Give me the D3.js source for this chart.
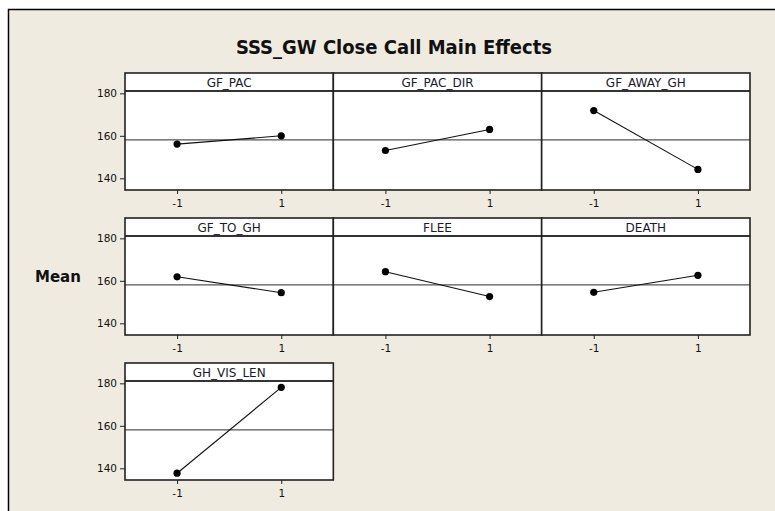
<!DOCTYPE html>
<html>
<head>
<meta charset="utf-8">
<script src="https://cdn.jsdelivr.net/npm/d3@7"></script>
<style>
  body { margin: 0; background: #fff; }
  svg { display: block; }
  text { font-family: "DejaVu Sans", Verdana, sans-serif; fill: #111; }
</style>
</head>
<body>
<script>

// factors and the mean response at each level
var factors = ["GF_PAC", "GF_PAC_DIR", "GF_AWAY_GH", "GF_TO_GH", "FLEE", "DEATH", "GH_VIS_LEN"];
var levels = [-1, 1];
var lowMeans = [156.1, 153.1, 171.9, 161.9, 164.3, 154.6, 137.7];
var highMeans = [160.0, 163.0, 144.2, 154.4, 152.6, 162.6, 178.1];
var grandMean = 158.1;
var yTicks = [140, 160, 180];
var xTickLabels = ["-1", "1"];

var w = 775, h = 511;
var stripH = 18;

var svg = d3.select("body")
  .append("svg")
  .attr("width", w)
  .attr("height", h);

// beige background with the black frame on top / left
svg.append("rect")
  .attr("x", 8).attr("y", 9)
  .attr("width", w - 8).attr("height", h - 9)
  .attr("fill", "#efebe0");
svg.append("path")
  .attr("d", "M8.5," + h + "V9.5H" + w)
  .attr("fill", "none")
  .attr("stroke", "#000")
  .attr("stroke-width", 1.5);

// title
svg.append("text")
  .attr("x", 394)
  .attr("y", 54)
  .attr("text-anchor", "middle")
  .style("font-family", "'DejaVu Sans Condensed', 'DejaVu Sans', sans-serif")
  .style("font-weight", "bold")
  .style("font-size", "20px")
  .text("SSS_GW Close Call Main Effects");

// y-axis title
svg.append("text")
  .attr("x", 35)
  .attr("y", 282)
  .style("font-weight", "bold")
  .style("font-size", "15px")
  .text("Mean");

// panel grid
var col = d3.scaleBand().domain([0, 1, 2]).range([125, 750]);
var row = d3.scaleBand().domain([0, 1, 2]).range([73, 480]).paddingInner(28 / 145);

var x = d3.scaleLinear().domain([-2, 2]).range([0, col.bandwidth()]);
var plotH = row.bandwidth() - stripH;
var y = d3.scaleLinear().domain([134.5, 181.1]).range([plotH, 0]);

var data = factors.map(function(f, i) {
  return {
    name: f,
    c: i % 3,
    r: Math.floor(i / 3),
    pts: [{lev: levels[0], m: lowMeans[i]}, {lev: levels[1], m: highMeans[i]}]
  };
});

var line = d3.line()
  .x(function(d) { return x(d.lev); })
  .y(function(d) { return y(d.m); });

var panels = svg.selectAll("g.panel")
  .data(data)
  .enter()
  .append("g")
  .attr("class", "panel")
  .attr("transform", function(d) {
    return "translate(" + col(d.c) + "," + row(d.r) + ")";
  });

// white panel
panels.append("rect")
  .attr("width", col.bandwidth())
  .attr("height", row.bandwidth())
  .attr("fill", "#fff");

// strip label
panels.append("text")
  .attr("x", col.bandwidth() / 2)
  .attr("y", 13.5)
  .attr("text-anchor", "middle")
  .style("font-size", "12px")
  .style("fill", "#1a1a2e")
  .text(function(d) { return d.name; });

// plot area
var plots = panels.append("g")
  .attr("transform", "translate(0," + stripH + ")");

// grand mean reference line
plots.append("line")
  .attr("x1", 0).attr("x2", col.bandwidth())
  .attr("y1", y(grandMean)).attr("y2", y(grandMean))
  .attr("stroke", "#555")
  .attr("stroke-width", 1.2);

plots.append("path")
  .attr("d", function(d) { return line(d.pts); })
  .attr("fill", "none")
  .attr("stroke", "#111")
  .attr("stroke-width", 1.1);

plots.selectAll("circle")
  .data(function(d) { return d.pts; })
  .enter()
  .append("circle")
  .attr("cx", function(d) { return x(d.lev); })
  .attr("cy", function(d) { return y(d.m); })
  .attr("r", 3.6)
  .attr("fill", "#000");

// strip separator and panel border
panels.append("line")
  .attr("x1", 0).attr("x2", col.bandwidth())
  .attr("y1", stripH).attr("y2", stripH)
  .attr("stroke", "#333")
  .attr("stroke-width", 2);

panels.append("rect")
  .attr("width", col.bandwidth())
  .attr("height", row.bandwidth())
  .attr("fill", "none")
  .attr("stroke", "#222")
  .attr("stroke-width", 1.6);

// x axis under every panel
var xAxis = d3.axisBottom(x)
  .tickValues(levels)
  .tickFormat(function(d, i) { return xTickLabels[i]; })
  .tickSize(4)
  .tickPadding(6);

panels.append("g")
  .attr("class", "xaxis")
  .attr("transform", "translate(0," + row.bandwidth() + ")")
  .call(xAxis);

// y axis on the left column
var yAxis = d3.axisLeft(y)
  .tickValues(yTicks)
  .tickSize(5)
  .tickPadding(3);

panels.filter(function(d) { return d.c == 0; })
  .append("g")
  .attr("class", "yaxis")
  .attr("transform", "translate(0," + stripH + ")")
  .call(yAxis);

svg.selectAll(".xaxis, .yaxis").select(".domain").remove();
svg.selectAll(".xaxis text, .yaxis text")
  .style("font-family", "'DejaVu Sans', sans-serif")
  .style("font-size", "10.5px")
  .attr("fill", "#111");
svg.selectAll(".xaxis line, .yaxis line")
  .attr("stroke", "#222");

</script>
</body>
</html>
